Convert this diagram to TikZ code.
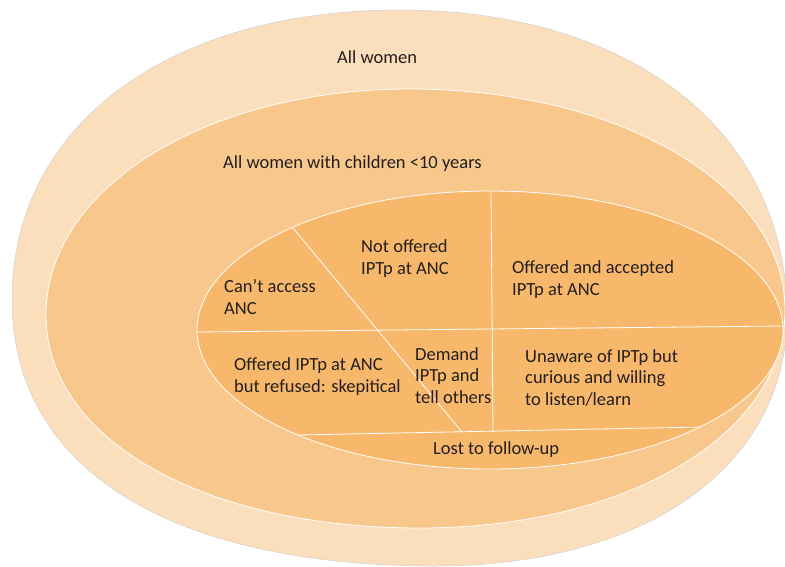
\documentclass[tikz,border=0pt]{standalone}
\usepackage{fontspec}
\setmainfont{Carlito}
\usepackage{xcolor}
\usepackage{tikz}
\definecolor{text}{HTML}{231F20}
\definecolor{ringout}{HTML}{FBDEBC}
\definecolor{ringmid}{HTML}{F8C78B}
\definecolor{ringin}{HTML}{F7B86B}
\tikzset{
  blobout/.style={fill=ringout, draw=black!18, line width=0.5pt},
  blobmid/.style={fill=ringmid, draw=white, line width=0.8pt},
  blobin/.style={fill=ringin, draw=white, line width=0.8pt},
  split/.style={draw=white, line width=0.8pt},
  lab/.style={text=text, anchor=base west, align=left, inner sep=0pt,
    font=\fontsize{18.5}{21.5}\selectfont},
}

\begin{document}
\begin{tikzpicture}[x=1pt, y=-1pt]
  \useasboundingbox (0,0) rectangle (785,566);
  \clip (0,0) rectangle (785,566);

  \coordinate (OT) at (400,10);    % all women, top
  \coordinate (OR) at (787,315);   % all women, right
  \coordinate (OB) at (435,566);   % all women, bottom
  \coordinate (OL) at (12,300);    % all women, left
  \draw[blobout] (OT) .. controls (632,10) and (787,132) .. (OR)
    .. controls (787,466) and (646,566) .. (OB)
    .. controls (169,566) and (12,468) .. (OL)
    .. controls (12,126) and (167,10) .. cycle;

  \coordinate (MT) at (410,89);    % women with children, top
  \coordinate (MR) at (785,310);   % women with children, right
  \coordinate (MB) at (420,528);   % women with children, bottom
  \coordinate (ML) at (46,315);    % women with children, left
  \draw[blobmid] (MT) .. controls (620,89) and (785,186) .. (MR)
    .. controls (785,434) and (628,528) .. (MB)
    .. controls (203,528) and (46,439) .. (ML)
    .. controls (46,188) and (206,89) .. cycle;

  % inner ellipse
  \draw[blobin] (490,330) ellipse [x radius=293pt, y radius=139pt];

  \coordinate (HL) at (197,332);   % horizontal split, left
  \coordinate (HR) at (783,326);   % horizontal split, right
  \coordinate (VT) at (491,191);   % vertical split, top
  \coordinate (VB) at (493,431);   % vertical split, bottom
  \coordinate (DT) at (293,228);   % slanted split, top
  \coordinate (DB) at (462,432);   % slanted split, bottom
  \coordinate (LL) at (298,435);   % lost to follow-up, left
  \coordinate (LR) at (700,427);   % lost to follow-up, right

  \draw[split] (HL)--(HR);
  \draw[split] (VT)--(VB);
  \draw[split] (DT)--(DB);
  \draw[split] (LL)--(LR);

  % base = last line
  \node[lab] (all) at (337,63) {All women};
  \node[lab] (kids) at (223,168) {All women with children <10 years};

  \node[lab] (access) at (224,314) {Can’t access\\ANC};
  \node[lab] (notoff) at (361,274) {Not offered\\IPTp at ANC};
  \node[lab] (accept) at (512,295) {Offered and accepted\\IPTp at ANC};
  \node[lab] (refuse) at (234,392) {Offered IPTp at ANC\\but refused: skepitical};
  \node[lab] (demand) at (415,403) {Demand\\IPTp and\\tell others};
  \node[lab] (unaware) at (525,405) {Unaware of IPTp but\\curious and willing\\to listen/learn};
  \node[lab] (lost) at (433,454) {Lost to follow-up};
\end{tikzpicture}
\end{document}
